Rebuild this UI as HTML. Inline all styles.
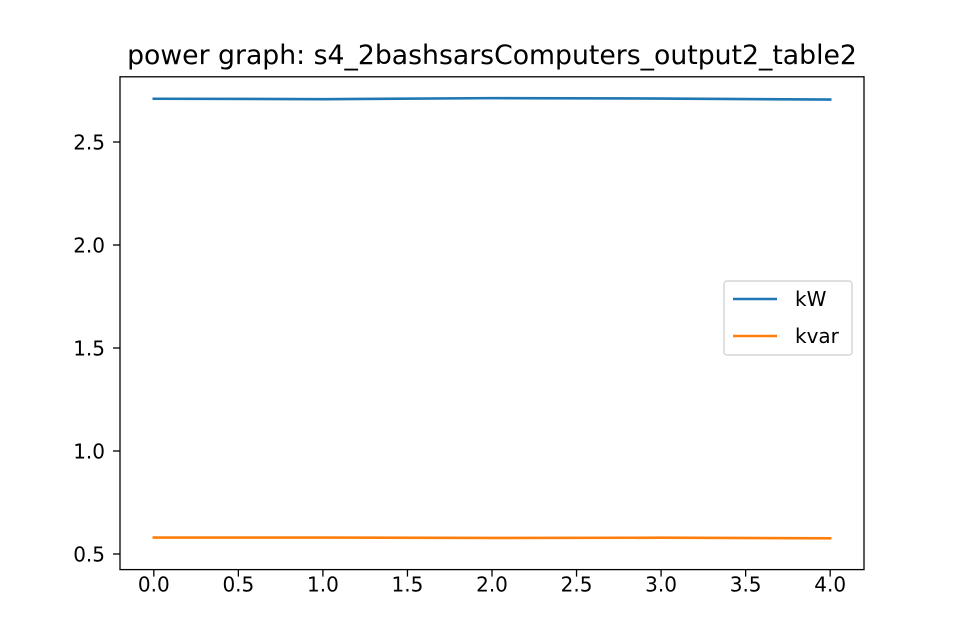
<!DOCTYPE html>
<html><head><meta charset="utf-8"><style>
html,body{margin:0;padding:0;background:#fff;}
svg{display:block;font-family:"DejaVu Sans","Liberation Sans",sans-serif;}
</style></head><body>
<svg id="chart" width="960" height="640">
<rect width="960" height="640" fill="#fff"/>
<text x="492" y="64" text-anchor="middle" font-size="26.7">power graph: s4_2bashsarsComputers_output2_table2</text>
<g id="ticks"></g>
<g id="lines"></g>
<rect x="120" y="76.8" width="744" height="492.8" fill="none" stroke="#000" stroke-width="1.3"/>
<g>
<rect x="724" y="281" width="128" height="74" rx="3" fill="#fff" stroke="#ccc" stroke-width="1.2"/>
<line x1="733" y1="299" x2="777" y2="299" stroke="#1f77b4" stroke-width="2.6"/>
<text x="795" y="306" font-size="20">kW</text>
<line x1="733" y1="336" x2="777" y2="336" stroke="#ff7f0e" stroke-width="2.6"/>
<text x="795" y="343" font-size="20">kvar</text>
</g>
</svg>
<script>
const xs = [0, 1, 2, 3, 4];
const kw = [2.710, 2.708, 2.713, 2.711, 2.706];
const kvar = [0.580, 0.580, 0.578, 0.579, 0.576];
const xTicks = [0, 0.5, 1, 1.5, 2, 2.5, 3, 3.5, 4];
const xTickLabels = ["0.0","0.5","1.0","1.5","2.0","2.5","3.0","3.5","4.0"];
const yTicks = [0.5, 1.0, 1.5, 2.0, 2.5];
const yTickLabels = ["0.5","1.0","1.5","2.0","2.5"];

const L=120,R=864,T=76.8,B=569.6;
const xMin=-0.2,xMax=4.2,yMin=0.4243,yMax=2.8165;
const sx=v=>L+(v-xMin)/(xMax-xMin)*(R-L);
const sy=v=>B-(v-yMin)/(yMax-yMin)*(B-T);
const NS="http://www.w3.org/2000/svg";
const tg=document.getElementById('ticks'), lg=document.getElementById('lines');
function mk(tag,attrs,parent){const e=document.createElementNS(NS,tag);for(const k in attrs)e.setAttribute(k,attrs[k]);parent.appendChild(e);return e;}
xTicks.forEach((t,i)=>{
  const x=sx(t);
  const l=mk('line',{x1:x,y1:B,x2:x,y2:B+7,stroke:'#000','stroke-width':1.3},tg);
  
  
  const tx=mk('text',{x:x,y:B+22,'text-anchor':'middle','font-size':'20'},tg);
  tx.textContent=xTickLabels[i];
  
  
});
yTicks.forEach((t,i)=>{
  const y=sy(t);
  const l=mk('line',{x1:L-7,y1:y,x2:L,y2:y,stroke:'#000','stroke-width':1.3},tg);
  
  
  const tx=mk('text',{x:L-15,y:y+7.5,'text-anchor':'end','font-size':'20'},tg);
  tx.textContent=yTickLabels[i];
  
  
});
function series(vals,color,name){
  const p=mk('polyline',{points:xs.map((x,i)=>sx(x)+','+sy(vals[i])).join(' '),fill:'none',stroke:color,'stroke-width':2.6,'stroke-linecap':'square'},lg);
  
  
}
series(kw,'#1f77b4','kw-line');
series(kvar,'#ff7f0e','kvar-line');
</script>
</body></html>
